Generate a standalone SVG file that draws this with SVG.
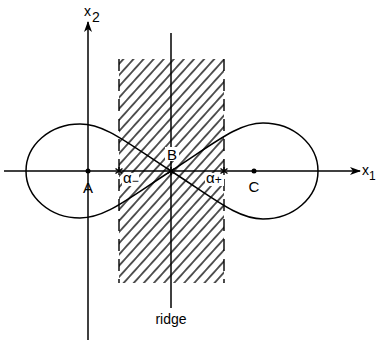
<svg xmlns="http://www.w3.org/2000/svg" width="377" height="346" viewBox="0 0 377 346">
<defs>
<style>
.ln{stroke:#000;stroke-width:1.5;fill:none}
.dash{stroke:#000;stroke-width:1.4;stroke-dasharray:12 8;fill:none}
.lbl{font-family:"Liberation Sans",Arial,sans-serif;font-size:15px;fill:#000}
.sm{font-size:14px}
.sub{font-size:12px}
.star{stroke:#000;stroke-width:1.4}
.bg{fill:#fff}
</style>
<pattern id="hatch" patternUnits="userSpaceOnUse" width="7.5" height="10" patternTransform="rotate(42)">
<line x1="3.75" y1="-1" x2="3.75" y2="11" stroke="#000" stroke-width="1.3"/>
</pattern>
<marker id="arr" markerWidth="11" markerHeight="8" refX="10" refY="4" orient="auto" markerUnits="userSpaceOnUse">
<path d="M0,0 L11,4 L0,8 L3,4 Z" fill="#000"/>
</marker>
<g id="ast">
<line x1="0" y1="-4" x2="0" y2="4" class="star"/>
<line x1="-3.5" y1="-2.5" x2="3.5" y2="2.5" class="star"/>
<line x1="-3.5" y1="2.5" x2="3.5" y2="-2.5" class="star"/>
</g>
</defs>
<rect width="377" height="346" fill="#fff"/>

<g id="ridge-region">
<rect x="119" y="59" width="105" height="224" fill="url(#hatch)"/>
<line x1="119" y1="59" x2="119" y2="283" class="dash"/>
<line x1="224" y1="59" x2="224" y2="283" class="dash"/>
<rect class="bg" x="122" y="173" width="17" height="13"/>
<rect class="bg" x="205" y="173" width="19" height="13"/>
</g>

<g id="connectors">
<line id="axis-x1" x1="4" y1="171" x2="360" y2="171" class="ln" marker-end="url(#arr)"/>
<line id="axis-x2" x1="88" y1="340" x2="88" y2="22" class="ln" marker-end="url(#arr)"/>
<line id="ridge-line" x1="171" y1="33" x2="171" y2="308" class="ln"/>
<path id="curve-left" class="ln" d="M171,171 C126,142 105,124 80,124 C50,124 26,145 26,171 C26,197 50,218 80,218 C105,218 126,200 171,171"/>
<path id="curve-right" class="ln" d="M171,171 C216,142 238,123 263,123 C294,123 318,145 318,171 C318,197 294,219 263,219 C238,219 216,200 171,171"/>
</g>

<g id="label-x2"><text class="lbl sm" x="84" y="16">x</text><text class="lbl sm" x="92" y="22">2</text></g>
<g id="label-x1"><text class="lbl sm" x="362" y="175">x</text><text class="lbl sub" x="369" y="180">1</text></g>

<g id="node-A">
<circle cx="88" cy="171" r="2.5" fill="#000"/>
<text class="lbl" x="88" y="193" text-anchor="middle">A</text>
</g>
<g id="node-B">
<rect class="bg" x="165" y="147" width="14" height="14"/>
<use href="#ast" x="171" y="171"/>
<text class="lbl" x="172" y="160" text-anchor="middle">B</text>
</g>
<g id="node-C">
<circle cx="254" cy="171" r="2.5" fill="#000"/>
<text class="lbl" x="254" y="192" text-anchor="middle">C</text>
</g>
<g id="node-alpha-minus">
<use href="#ast" x="119" y="171"/>
<text class="lbl" x="123" y="183">α<tspan class="sub" dy="2">−</tspan></text>
</g>
<g id="node-alpha-plus">
<use href="#ast" x="224" y="171"/>
<text class="lbl" x="206" y="183">α<tspan class="sub" dy="1">+</tspan></text>
</g>
<g id="label-ridge">
<text class="lbl sm" x="171" y="324" text-anchor="middle">ridge</text>
</g>
</svg>
